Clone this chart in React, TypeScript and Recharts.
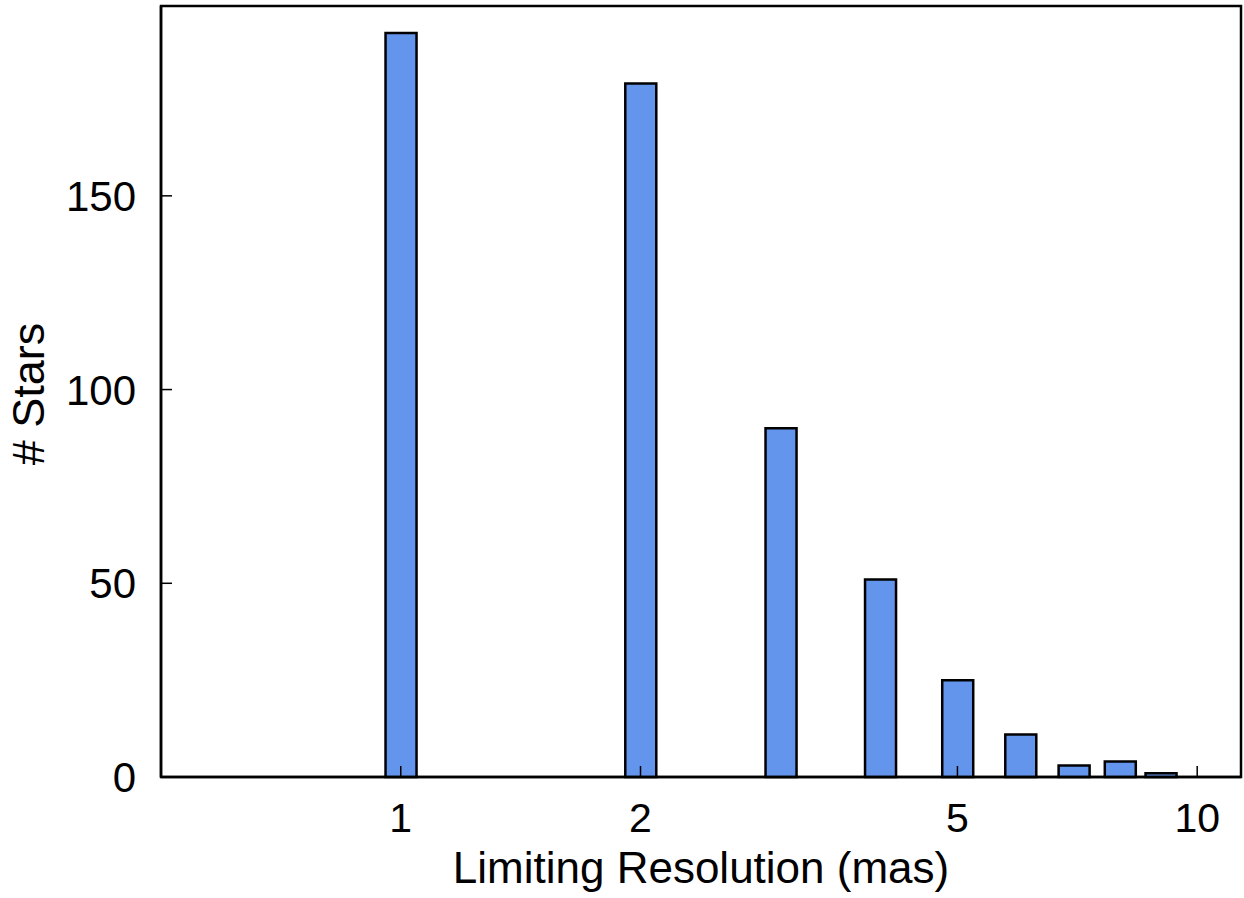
import { BarChart, Bar, XAxis, YAxis, ReferenceArea } from "recharts";

const resolutions = [1, 2, 3, 4, 5, 6, 7, 8, 9, 10];
const starCounts = [192, 179, 90, 51, 25, 11, 3, 4, 1, 0];
const xTicks = [1, 2, 5, 10];
const yTicks = [0, 50, 100, 150];

const data = resolutions.map((r, i) => ({ res: r, stars: starCounts[i] }));

const FONT = "'Liberation Sans', Arial, Helvetica, sans-serif";
const X_MIN = 0.5;
const X_MAX = 11.35;
const Y_MAX = 199;

function XTick(props: any) {
  const { x, y, payload } = props;
  return (
    <g>
      <line x1={x} y1={y} x2={x} y2={y - 11} stroke="#000" strokeWidth={1.5} />
      <text x={x} y={y + 55} textAnchor="middle" fontSize={41} fontFamily={FONT} fill="#000">
        {payload.value}
      </text>
    </g>
  );
}

function YTick(props: any) {
  const { x, y, payload } = props;
  return (
    <g>
      <line x1={x} y1={y} x2={x + 11} y2={y} stroke="#000" strokeWidth={1.5} />
      <text x={x - 25} y={y + 15} textAnchor="end" fontSize={42} fontFamily={FONT} fill="#000">
        {payload.value}
      </text>
    </g>
  );
}

export default function App() {
  return (
    <div style={{ position: "absolute", left: 0, top: 0, background: "#fff" }}>
      <BarChart
        width={1244}
        height={898}
        data={data}
        margin={{ top: 6, right: 3, left: 0, bottom: 0 }}
      >
        <XAxis
          dataKey="res"
          type="number"
          scale="log"
          domain={[X_MIN, X_MAX]}
          allowDataOverflow
          ticks={xTicks}
          height={121}
          tickLine={false}
          tickSize={0}
          tickMargin={0}
          axisLine={{ stroke: "#000", strokeWidth: 2.5 }}
          tick={<XTick />}
          label={{
            content: () => (
              <text x={701} y={883} textAnchor="middle" fontSize={44} fontFamily={FONT} fill="#000">
                Limiting Resolution (mas)
              </text>
            ),
          }}
        />
        <YAxis
          type="number"
          domain={[0, Y_MAX]}
          ticks={yTicks}
          width={161}
          tickLine={false}
          tickSize={0}
          tickMargin={0}
          axisLine={{ stroke: "#000", strokeWidth: 2.5 }}
          tick={<YTick />}
          label={{
            content: () => (
              <text
                x={44}
                y={394}
                transform="rotate(-90 44 394)"
                textAnchor="middle"
                fontSize={45}
                fontFamily={FONT}
                fill="#000"
              >
                # Stars
              </text>
            ),
          }}
        />
        <ReferenceArea
          x1={X_MIN}
          x2={X_MAX}
          y1={0}
          y2={Y_MAX}
          fill="none"
          stroke="#000"
          strokeWidth={2.5}
          ifOverflow="visible"
        />
        <Bar
          dataKey="stars"
          barSize={31}
          fill="#6495ED"
          stroke="#000"
          strokeWidth={2.5}
          isAnimationActive={false}
        />
      </BarChart>
    </div>
  );
}
